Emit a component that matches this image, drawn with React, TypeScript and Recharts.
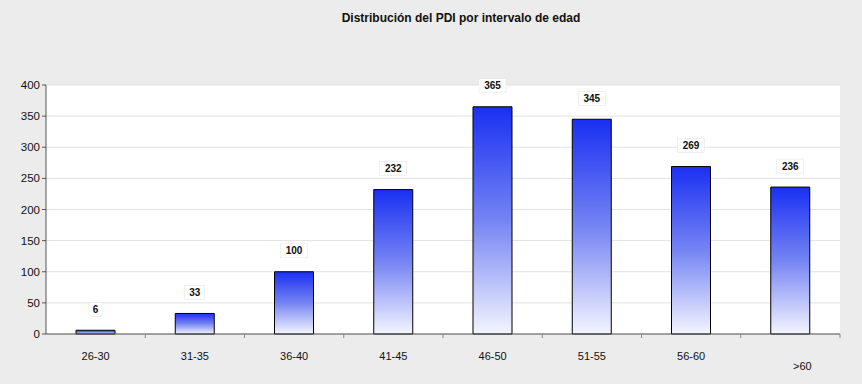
import React from 'react';
import { BarChart, Bar, XAxis, YAxis, CartesianGrid, LabelList } from 'recharts';

const ageGroups = ['26-30', '31-35', '36-40', '41-45', '46-50', '51-55', '56-60', '>60'];
const pdiCounts = [6, 33, 100, 232, 365, 345, 269, 236];
const yTicks = [0, 50, 100, 150, 200, 250, 300, 350, 400];

const data = ageGroups.map((group, i) => ({ group, value: pdiCounts[i] }));

const FONT = 'Arial, "Liberation Sans", sans-serif';
const BAND = (840 - 46) / ageGroups.length;

const AgeTick: React.FC<any> = ({ x, y, payload }) => {
  const isLast = payload.value === '>60';
  return (
    <g>
      <line x1={x + BAND / 2} y1={y - 8} x2={x + BAND / 2} y2={y - 4} stroke="#888" />
      <text
        x={isLast ? x + 12 : x}
        y={isLast ? y + 28 : y + 18}
        textAnchor="middle"
        fontSize={11}
        fontFamily={FONT}
        fill="#111"
      >
        {payload.value}
      </text>
    </g>
  );
};

const ValueLabel: React.FC<any> = ({ x, y, width, value }) => {
  const cx = x + width / 2;
  const cy = y - 21;
  const w = String(value).length * 7 + 6;
  return (
    <g>
      <rect x={cx - w / 2} y={cy - 7} width={w} height={14} fill="#fff" stroke="#e2e2e2" strokeWidth={0.5} />
      <text x={cx} y={cy + 3.5} textAnchor="middle" fontSize={10} fontWeight="bold" fontFamily={FONT} fill="#111">
        {value}
      </text>
    </g>
  );
};

const App: React.FC = () => {
  return (
    <div style={{ position: 'absolute', left: 0, top: 0, width: 862, height: 384, background: '#ececec' }}>
      <div
        style={{
          position: 'absolute',
          left: 0,
          width: 922,
          top: 11,
          textAlign: 'center',
          fontFamily: FONT,
          fontWeight: 'bold',
          fontSize: 12,
          color: '#111',
        }}
      >
        Distribución del PDI por intervalo de edad
      </div>
      <BarChart width={862} height={384} data={data} margin={{ top: 85, right: 22, bottom: 20, left: 0 }}>
        <defs>
          <linearGradient id="barFill" x1="0" y1="0" x2="0" y2="1">
            <stop offset="0%" stopColor="#1a30f2" />
            <stop offset="50%" stopColor="#7584f3" />
            <stop offset="100%" stopColor="#f4f5ff" />
          </linearGradient>
        </defs>
        <CartesianGrid vertical={false} stroke="#e2e2e2" fill="#fff" />
        <XAxis
          dataKey="group"
          height={30}
          tickLine={false}
          axisLine={{ stroke: '#555' }}
          tick={<AgeTick />}
          interval={0}
        />
        <XAxis xAxisId="top" orientation="top" dataKey="group" height={0} tick={false} tickLine={false} axisLine={{ stroke: '#9a9a9a' }} />
        <YAxis
          width={46}
          domain={[0, 400]}
          ticks={yTicks}
          tickSize={4}
          tickLine={{ stroke: '#555' }}
          axisLine={{ stroke: '#555' }}
          tick={{ fontSize: 11.5, fontFamily: FONT, fill: '#111' }}
        />
        <YAxis yAxisId="right" orientation="right" width={0} tick={false} tickLine={false} axisLine={{ stroke: '#9a9a9a' }} />
        <Bar dataKey="value" barSize={39} fill="url(#barFill)" stroke="#000" strokeWidth={1} isAnimationActive={false}>
          <LabelList dataKey="value" content={<ValueLabel />} />
        </Bar>
      </BarChart>
    </div>
  );
};

export default App;
